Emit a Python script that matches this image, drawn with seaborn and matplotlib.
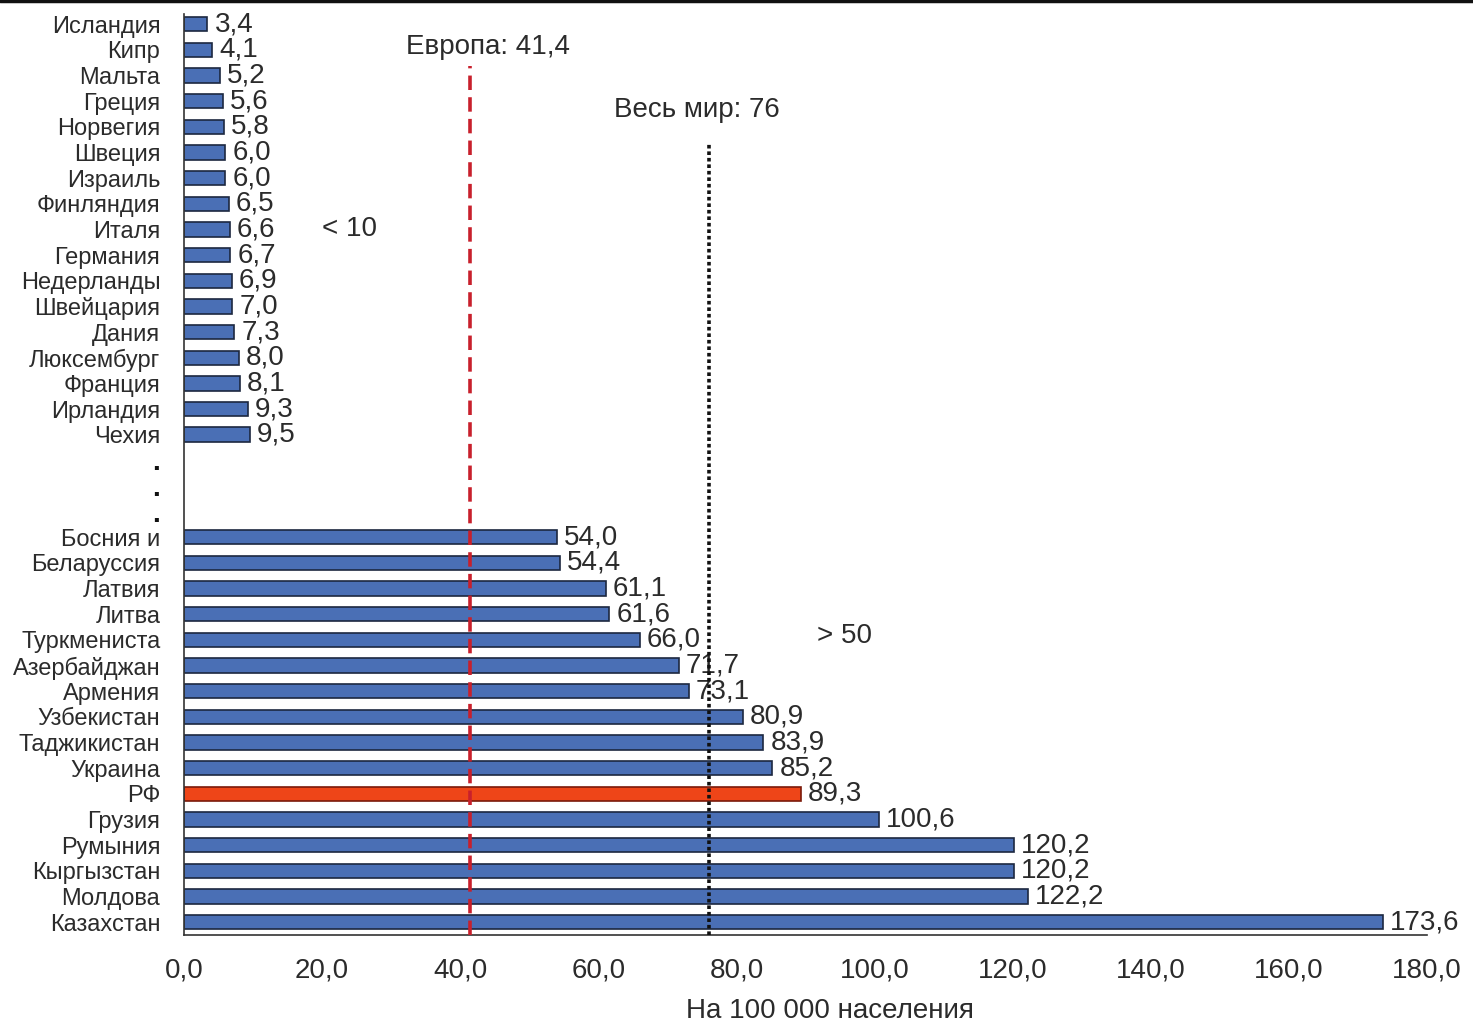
import matplotlib
matplotlib.use("Agg")
import matplotlib.pyplot as plt
import seaborn as sns
import pandas as pd

# Low-rate group (top block)
low_countries = ["Исландия", "Кипр", "Мальта", "Греция", "Норвегия", "Швеция", "Израиль",
                 "Финляндия", "Италя", "Германия", "Недерланды", "Швейцария", "Дания",
                 "Люксембург", "Франция", "Ирландия", "Чехия"]
low_values = [3.4, 4.1, 5.2, 5.6, 5.8, 6.0, 6.0, 6.5, 6.6, 6.7, 6.9, 7.0, 7.3, 8.0, 8.1, 9.3, 9.5]

# High-rate group (bottom block)
high_countries = ["Босния и", "Беларуссия", "Латвия", "Литва", "Туркмениста", "Азербайджан",
                  "Армения", "Узбекистан", "Таджикистан", "Украина", "РФ", "Грузия",
                  "Румыния", "Кыргызстан", "Молдова", "Казахстан"]
high_values = [54.0, 54.4, 61.1, 61.6, 66.0, 71.7, 73.1, 80.9, 83.9, 85.2, 89.3, 100.6,
               120.2, 120.2, 122.2, 173.6]

europe_avg = 41.4
world_avg = 76
x_ticks = [0, 20, 40, 60, 80, 100, 120, 140, 160, 180]

gap_slots = ["_gap1", "_gap2", "_gap3"]
order = low_countries + gap_slots + high_countries

df = pd.DataFrame({"country": low_countries + high_countries,
                   "value": low_values + high_values})

sns.set_theme(style="white")
plt.rcParams["font.family"] = ["Liberation Sans", "DejaVu Sans"]

fig = plt.figure(figsize=(14.73, 10.24), dpi=100)
ax = fig.add_axes([0.1249, 0.0869, 0.8439, 0.8993])

text_color = "#2b2b2b"
blue = "#4a6fb5"
palette = {c: blue for c in df["country"]}
palette["РФ"] = "#ee4518"

sns.barplot(data=df, y="country", x="value", hue="country", order=order,
            hue_order=list(df["country"]), palette=palette, orient="h",
            width=0.56, legend=False, edgecolor="#1c2840", linewidth=1.2,
            saturation=1, ax=ax)

for p in ax.patches:
    if p.get_facecolor()[0] > 0.8:
        p.set_edgecolor("#7a1a0a")

def fmt(v):
    return f"{v:.1f}".replace(".", ",")

for cont in ax.containers:
    vals = cont.datavalues
    ax.bar_label(cont, labels=[fmt(v) for v in vals], padding=5,
                 fontsize=20, color=text_color)

ax.set_xlim(0, 180)
ax.set_ylim(len(order) - 0.5, -0.39)

ax.set_xticks(x_ticks)
ax.set_xticklabels([fmt(t) for t in x_ticks], fontsize=20, color=text_color)
ax.tick_params(axis="x", direction="in", length=8, width=1, color="#333333", pad=16)
ax.tick_params(axis="y", length=0, pad=17)

ytl = ["." if c.startswith("_gap") else c for c in order]
ax.set_yticks(range(len(order)))
ax.set_yticklabels(ytl, fontsize=17, color=text_color)
for lbl in ax.get_yticklabels():
    if lbl.get_text() == ".":
        lbl.set_fontsize(20)
        lbl.set_fontweight("bold")
        lbl.set_color("#111111")

ax.set_ylabel("")
ax.set_xlabel("На 100 000 населения", fontsize=20, color=text_color)
ax.xaxis.set_label_coords(0.52, -0.068)

for side in ["top", "right"]:
    ax.spines[side].set_visible(False)
for side in ["left", "bottom"]:
    ax.spines[side].set_color("#333333")
    ax.spines[side].set_linewidth(1.2)

# Reference lines for averages
ax.vlines(europe_avg, ymin=len(order) - 0.5, ymax=1.64, colors="#c8202c",
          linestyles=(0, (4, 2)), linewidth=2.6, zorder=5)
ax.vlines(world_avg, ymin=len(order) - 0.5, ymax=4.6, colors="#111111",
          linestyles=(0, (1, 0.8)), linewidth=2.6, zorder=5)

ax.text(europe_avg + 2.6, 0.9, "Европа: 41,4", ha="center", va="center",
        fontsize=20, color=text_color)
ax.text(world_avg - 1.7, 3.35, "Весь мир: 76", ha="center", va="center",
        fontsize=20, color=text_color)
ax.text(24, 8.0, "< 10", ha="center", va="center", fontsize=20, color=text_color)
ax.text(95.6, 23.85, "> 50", ha="center", va="center", fontsize=20, color=text_color)

# Thin rule along the top edge
fig.add_artist(plt.Line2D([0, 1], [0.999, 0.999], color="#111111", linewidth=2.5,
                          transform=fig.transFigure))

fig.savefig("out.png", dpi=100, facecolor="white")
